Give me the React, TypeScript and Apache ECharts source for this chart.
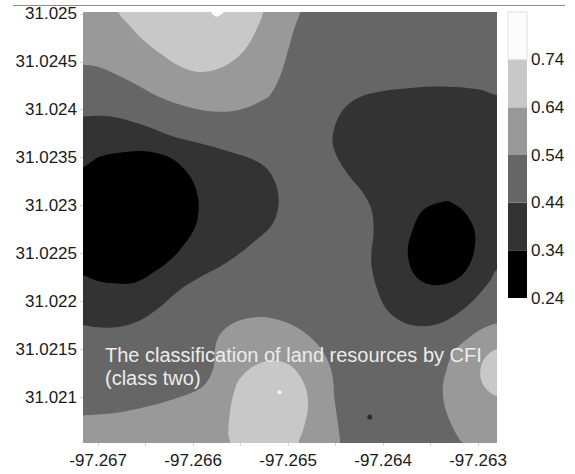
import React, { useEffect, useRef } from "react";
import * as echarts from "echarts";

// Contour band levels and their grey fills
const levels = [0.24, 0.34, 0.44, 0.54, 0.64, 0.74, 0.84];
const bandColors = ["#000000", "#333333", "#666666", "#999999", "#c8c8c8", "#fcfcfc"];
const colorbarTicks = [0.24, 0.34, 0.44, 0.54, 0.64, 0.74];

// Axis tick labels
const xLabels = [-97.267, -97.266, -97.265, -97.264, -97.263];
const xTicks = [-97.267, -97.2665, -97.266, -97.2655, -97.265, -97.2645, -97.264, -97.2635, -97.263];
const yLabels = [31.021, 31.0215, 31.022, 31.0225, 31.023, 31.0235, 31.024, 31.0245, 31.025];
const xRange = [-97.26716, -97.2628];
const yRange = [31.02052, 31.02502];

// Contour regions (lon, lat), painted in order; band = index into bandColors
const baseRegion = [[-97.2674, 31.0252], [-97.2626, 31.0252], [-97.2626, 31.0203], [-97.2674, 31.0203]];
const topMid = [[-97.2674, 31.02447], [-97.26716, 31.02447], [-97.26698, 31.02444], [-97.26663, 31.02428], [-97.26635, 31.02413], [-97.26606, 31.02403], [-97.26579, 31.02398], [-97.26551, 31.024], [-97.26526, 31.0241], [-97.26519, 31.02415], [-97.26508, 31.02436], [-97.265, 31.02462], [-97.26494, 31.02483], [-97.26487, 31.02502], [-97.26481, 31.0252], [-97.2674, 31.0252]];
const topLight = [[-97.26679, 31.02502], [-97.26668, 31.02489], [-97.26653, 31.02473], [-97.26635, 31.02459], [-97.26617, 31.02447], [-97.26598, 31.0244], [-97.26579, 31.02441], [-97.26561, 31.02449], [-97.26546, 31.02462], [-97.26535, 31.0248], [-97.26526, 31.02502], [-97.26523, 31.0252], [-97.26683, 31.0252]];
const topWhite = [[-97.26581, 31.02502], [-97.26579, 31.02499], [-97.26575, 31.02497], [-97.26571, 31.02499], [-97.26568, 31.02502], [-97.26568, 31.0252], [-97.26581, 31.0252]];
const leftDark = [[-97.2674, 31.02393], [-97.26716, 31.02393], [-97.26687, 31.02393], [-97.26653, 31.02384], [-97.26621, 31.02372], [-97.26585, 31.02363], [-97.26558, 31.02355], [-97.26537, 31.02348], [-97.26523, 31.02339], [-97.26514, 31.02325], [-97.2651, 31.02308], [-97.26512, 31.02291], [-97.26519, 31.02277], [-97.26535, 31.02263], [-97.26551, 31.0225], [-97.26572, 31.02236], [-97.26593, 31.02225], [-97.26614, 31.02212], [-97.26635, 31.02194], [-97.26656, 31.0218], [-97.2668, 31.02173], [-97.26703, 31.02173], [-97.26716, 31.02175], [-97.2674, 31.02175]];
const leftBlack = [[-97.2674, 31.0234], [-97.26716, 31.0234], [-97.26708, 31.02345], [-97.26698, 31.02351], [-97.26669, 31.02356], [-97.26645, 31.02356], [-97.26621, 31.02348], [-97.26603, 31.0233], [-97.26595, 31.02309], [-97.26595, 31.02288], [-97.26599, 31.02275], [-97.26606, 31.02264], [-97.26621, 31.02246], [-97.26642, 31.0223], [-97.26663, 31.02219], [-97.26687, 31.02219], [-97.26703, 31.02222], [-97.26716, 31.02227], [-97.2674, 31.02227]];
const rightDark = [[-97.2628, 31.02415], [-97.26298, 31.02421], [-97.26333, 31.02424], [-97.26368, 31.02423], [-97.26403, 31.02419], [-97.26427, 31.02412], [-97.26442, 31.024], [-97.26451, 31.02382], [-97.26453, 31.02365], [-97.26447, 31.02348], [-97.26435, 31.0233], [-97.26421, 31.02313], [-97.26412, 31.02295], [-97.2641, 31.02271], [-97.26412, 31.02254], [-97.26412, 31.02236], [-97.26406, 31.02212], [-97.26396, 31.02191], [-97.26379, 31.02178], [-97.26361, 31.02174], [-97.2634, 31.02177], [-97.26319, 31.02189], [-97.26301, 31.02205], [-97.26287, 31.02222], [-97.2628, 31.02233], [-97.2626, 31.02233], [-97.2626, 31.02415]];
const rightBlack = [[-97.26337, 31.02304], [-97.2635, 31.023], [-97.26361, 31.02292], [-97.2637, 31.02271], [-97.26374, 31.02254], [-97.2637, 31.02233], [-97.26358, 31.0222], [-97.2634, 31.02217], [-97.26321, 31.02224], [-97.26308, 31.0224], [-97.26303, 31.02261], [-97.26305, 31.02278], [-97.26316, 31.02295], [-97.2633, 31.02304]];
const bottomMid = [[-97.2674, 31.02081], [-97.26716, 31.02081], [-97.26684, 31.02083], [-97.26648, 31.0209], [-97.26614, 31.021], [-97.2659, 31.02111], [-97.26579, 31.02129], [-97.26577, 31.0215], [-97.26572, 31.02165], [-97.26558, 31.02177], [-97.26537, 31.02183], [-97.26516, 31.02182], [-97.26495, 31.02175], [-97.26477, 31.02163], [-97.26463, 31.02147], [-97.26454, 31.02126], [-97.26451, 31.02097], [-97.26447, 31.02069], [-97.26445, 31.02052], [-97.26444, 31.0203], [-97.2674, 31.0203]];
const bottomLight = [[-97.26561, 31.02052], [-97.26563, 31.02062], [-97.26561, 31.02086], [-97.26557, 31.02105], [-97.26551, 31.02119], [-97.26533, 31.02134], [-97.26512, 31.02138], [-97.26495, 31.02131], [-97.26482, 31.02111], [-97.26479, 31.0209], [-97.26484, 31.02066], [-97.26489, 31.02052], [-97.26489, 31.0203], [-97.26561, 31.0203]];
const rightMid = [[-97.2628, 31.02177], [-97.26298, 31.0217], [-97.26312, 31.0216], [-97.26326, 31.02147], [-97.26333, 31.02129], [-97.26337, 31.02111], [-97.26335, 31.0209], [-97.26327, 31.02069], [-97.26319, 31.02055], [-97.26316, 31.02052], [-97.26314, 31.0203], [-97.2626, 31.0203], [-97.2626, 31.02177]];
const rightLight = [[-97.2628, 31.0215], [-97.26291, 31.02143], [-97.26297, 31.02131], [-97.26297, 31.02119], [-97.26291, 31.02108], [-97.2628, 31.02101], [-97.2626, 31.02101], [-97.2626, 31.0215]];

const layers = [
  { band: 2, pts: baseRegion },
  { band: 3, pts: topMid },
  { band: 4, pts: topLight },
  { band: 5, pts: topWhite },
  { band: 1, pts: leftDark },
  { band: 0, pts: leftBlack },
  { band: 1, pts: rightDark },
  { band: 0, pts: rightBlack },
  { band: 3, pts: bottomMid },
  { band: 4, pts: bottomLight },
  { band: 3, pts: rightMid },
  { band: 4, pts: rightLight },
];

// Sample points
const whitePoint = [[-97.26509, 31.02105]];
const blackPoint = [[-97.26414, 31.02079]];

const FONT = "Liberation Sans";

export default function App() {
  const ref = useRef<HTMLDivElement>(null);
  useEffect(() => {
    if (!ref.current) return;
    const chart = echarts.init(ref.current, null, { renderer: "svg" });
    const bands = levels.slice(0, -1).map((lo, i) => [0, lo, levels[i + 1], i]);
    chart.setOption({
      animation: false,
      backgroundColor: "#ffffff",
      grid: [
        { left: 83, top: 12, width: 414, height: 431 },
        { left: 508, top: 12, width: 19, height: 286 },
      ],
      xAxis: [
        {
          type: "value",
          gridIndex: 0,
          min: xRange[0],
          max: xRange[1],
          axisLine: { show: false },
          splitLine: { show: false },
          axisTick: { show: true, customValues: xTicks, length: 3, lineStyle: { color: "#d0d0d0" } },
          axisLabel: {
            customValues: xLabels,
            formatter: (v: number) => v.toFixed(3),
            fontSize: 17,
            fontFamily: FONT,
            color: "#1a1a1a",
            margin: 9,
          },
        },
        { type: "value", gridIndex: 1, min: 0, max: 1, show: false },
      ],
      yAxis: [
        {
          type: "value",
          gridIndex: 0,
          min: yRange[0],
          max: yRange[1],
          axisLine: { show: false },
          splitLine: { show: false },
          axisTick: { show: true, customValues: yLabels, length: 3, lineStyle: { color: "#d0d0d0" } },
          axisLabel: {
            customValues: yLabels,
            formatter: (v: number) => String(parseFloat(v.toFixed(4))),
            fontSize: 17,
            fontFamily: FONT,
            color: "#1a1a1a",
            margin: 6,
          },
        },
        {
          type: "value",
          gridIndex: 1,
          position: "right",
          min: levels[0],
          max: levels[levels.length - 1],
          axisLine: { show: false },
          axisTick: { show: false },
          splitLine: { show: false },
          axisLabel: {
            customValues: colorbarTicks,
            formatter: (v: number) => v.toFixed(2),
            fontSize: 17,
            fontFamily: FONT,
            color: "#1a1a1a",
            margin: 4,
          },
        },
      ],
      series: [
        {
          type: "custom",
          xAxisIndex: 0,
          yAxisIndex: 0,
          clip: true,
          silent: true,
          data: layers.map((l, i) => [l.pts[0][0], l.pts[0][1], i]),
          renderItem: (params: any, api: any) => {
            const layer = layers[params.dataIndex];
            const points = layer.pts.map((p) => api.coord(p));
            return {
              type: "polygon",
              shape: { points, smooth: 0.35 },
              style: { fill: bandColors[layer.band] },
            };
          },
        },
        {
          type: "scatter",
          xAxisIndex: 0,
          yAxisIndex: 0,
          data: whitePoint,
          symbolSize: 4,
          itemStyle: { color: "#ffffff" },
          silent: true,
        },
        {
          type: "scatter",
          xAxisIndex: 0,
          yAxisIndex: 0,
          data: blackPoint,
          symbolSize: 5,
          itemStyle: { color: "#1e1e1e" },
          silent: true,
        },
        {
          type: "custom",
          xAxisIndex: 1,
          yAxisIndex: 1,
          silent: true,
          data: bands,
          renderItem: (params: any, api: any) => {
            const lo = api.value(1);
            const hi = api.value(2);
            const idx = api.value(3);
            const p1 = api.coord([0, hi]);
            const p2 = api.coord([1, lo]);
            return {
              type: "rect",
              shape: { x: p1[0], y: p1[1], width: p2[0] - p1[0], height: p2[1] - p1[1] },
              style: {
                fill: bandColors[idx],
                stroke: idx === 5 ? "#dddddd" : null,
                lineWidth: idx === 5 ? 1 : 0,
              },
            };
          },
        },
      ],
      graphic: [
        {
          type: "line",
          z: 100,
          shape: { x1: 13, y1: 5.5, x2: 565, y2: 5.5 },
          style: { stroke: "#8a8a8a", lineWidth: 1 },
          silent: true,
        },
        {
          type: "text",
          z: 100,
          left: 105,
          top: 343,
          silent: true,
          style: {
            text: "The classification of land resources by CFI\n(class two)",
            fill: "#ececec",
            font: `20px "${FONT}"`,
            lineHeight: 23,
          },
        },
      ],
    });
    return () => chart.dispose();
  }, []);
  return (
    <div
      ref={ref}
      style={{ position: "fixed", left: 0, top: 0, width: 575, height: 474 }}
    />
  );
}
